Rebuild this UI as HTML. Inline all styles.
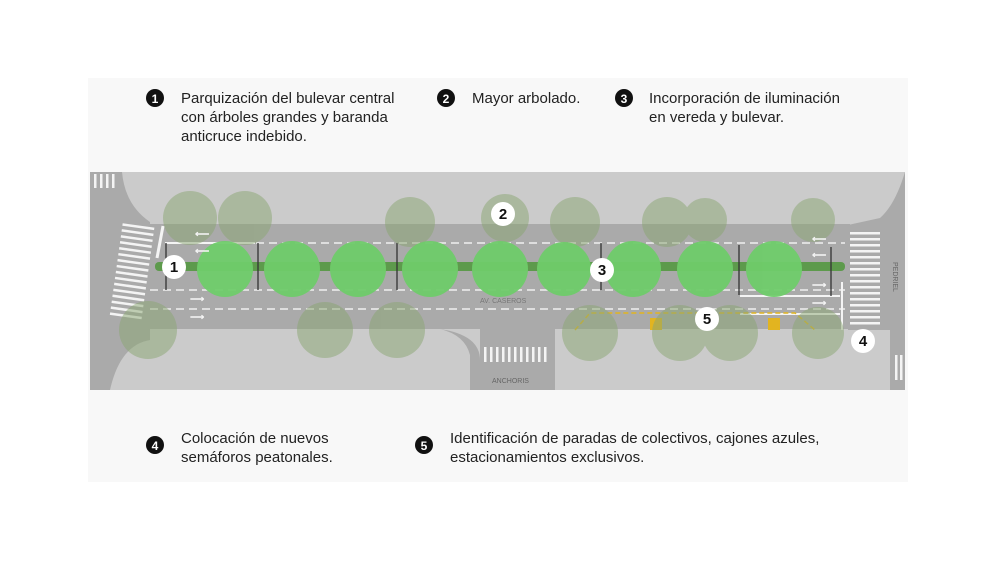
<!DOCTYPE html>
<html><head><meta charset="utf-8"><style>
body{margin:0;width:992px;height:558px;background:#fff;overflow:hidden;font-family:"Liberation Sans",sans-serif;}
</style></head><body>
<svg width="992" height="558" viewBox="0 0 992 558" xmlns="http://www.w3.org/2000/svg" font-family="Liberation Sans, sans-serif">
<rect x="88" y="78" width="820" height="404" fill="#f8f8f8"/>
<!-- legend -->
<g font-size="15" fill="#222">
<circle cx="155" cy="98" r="9" fill="#111"/><text x="155" y="103" font-size="12" font-weight="bold" fill="#fff" text-anchor="middle">1</text>
<text x="181" y="103">Parquización del bulevar central</text>
<text x="181" y="122">con árboles grandes y baranda</text>
<text x="181" y="141">anticruce indebido.</text>
<circle cx="446" cy="98" r="9" fill="#111"/><text x="446" y="103" font-size="12" font-weight="bold" fill="#fff" text-anchor="middle">2</text>
<text x="472" y="103">Mayor arbolado.</text>
<circle cx="624" cy="98" r="9" fill="#111"/><text x="624" y="103" font-size="12" font-weight="bold" fill="#fff" text-anchor="middle">3</text>
<text x="649" y="103">Incorporación de iluminación</text>
<text x="649" y="122">en vereda y bulevar.</text>
<circle cx="155" cy="445" r="9" fill="#111"/><text x="155" y="450" font-size="12" font-weight="bold" fill="#fff" text-anchor="middle">4</text>
<text x="181" y="443">Colocación de nuevos</text>
<text x="181" y="462">semáforos peatonales.</text>
<circle cx="424" cy="445" r="9" fill="#111"/><text x="424" y="450" font-size="12" font-weight="bold" fill="#fff" text-anchor="middle">5</text>
<text x="450" y="443">Identificación de paradas de colectivos, cajones azules,</text>
<text x="450" y="462">estacionamientos exclusivos.</text>
</g>
<!-- map -->
<rect x="90" y="172" width="815" height="218" fill="#cbcbcb"/>
<path d="M90 172 H122 Q125 205 150 222 L150 340 Q120 345 110 390 H90 Z" fill="#aaaaaa"/>
<path d="M848 225 L880 218 Q895 205 905 172 V390 H890 V330 H848 Z" fill="#aaaaaa"/>
<rect x="150" y="224" width="700" height="105" fill="#aaaaaa"/>
<path d="M480 329 H555 V390 H480 Z" fill="#aaaaaa"/>
<path d="M440 329 Q480 335 480 360 V390 H470 V355 Q465 335 440 329Z" fill="#aaaaaa"/>
<!-- lane lines -->
<g stroke="#f0f0f0" stroke-width="1.5" stroke-dasharray="8,5" fill="none">
<line x1="165" y1="243" x2="845" y2="243"/>
<line x1="150" y1="290" x2="845" y2="290"/>
<line x1="150" y1="309" x2="845" y2="309"/>
</g>
<line x1="165" y1="243" x2="255" y2="243" stroke="#f4f4f4" stroke-width="2"/>
<line x1="740" y1="296" x2="840" y2="296" stroke="#f4f4f4" stroke-width="2"/>
<line x1="740" y1="314" x2="840" y2="314" stroke="#f4f4f4" stroke-width="2"/>
<line x1="842" y1="282" x2="842" y2="330" stroke="#f4f4f4" stroke-width="2"/>
<line x1="163" y1="226" x2="157" y2="258" stroke="#f4f4f4" stroke-width="3"/>
<!-- median -->
<rect x="155" y="262" width="690" height="9" rx="4" fill="#5d9a4c"/>
<!-- barriers -->
<g stroke="#333" stroke-width="1.3">
<line x1="166" y1="243" x2="166" y2="290"/><line x1="258" y1="243" x2="258" y2="290"/>
<line x1="397" y1="243" x2="397" y2="290"/><line x1="601" y1="243" x2="601" y2="290"/>
<line x1="739" y1="245" x2="739" y2="295"/><line x1="831" y1="247" x2="831" y2="296"/>
</g>
<!-- crosswalks -->
<g fill="#f4f4f4">
<g transform="translate(132,272) rotate(8)">
<rect x="-17" y="-48" width="34" height="96" fill="#aaa"/>
</g>
<g transform="translate(132,272) rotate(8)">
<rect x="-16" y="-47" width="32" height="2.5"/><rect x="-16" y="-41" width="32" height="2.5"/><rect x="-16" y="-35" width="32" height="2.5"/><rect x="-16" y="-29" width="32" height="2.5"/><rect x="-16" y="-23" width="32" height="2.5"/><rect x="-16" y="-17" width="32" height="2.5"/><rect x="-16" y="-11" width="32" height="2.5"/><rect x="-16" y="-5" width="32" height="2.5"/><rect x="-16" y="1" width="32" height="2.5"/><rect x="-16" y="7" width="32" height="2.5"/><rect x="-16" y="13" width="32" height="2.5"/><rect x="-16" y="19" width="32" height="2.5"/><rect x="-16" y="25" width="32" height="2.5"/><rect x="-16" y="31" width="32" height="2.5"/><rect x="-16" y="37" width="32" height="2.5"/><rect x="-16" y="43" width="32" height="2.5"/>
</g>
<g>
<rect x="850" y="232" width="30" height="2.5"/><rect x="850" y="238" width="30" height="2.5"/><rect x="850" y="244" width="30" height="2.5"/><rect x="850" y="250" width="30" height="2.5"/><rect x="850" y="256" width="30" height="2.5"/><rect x="850" y="262" width="30" height="2.5"/><rect x="850" y="268" width="30" height="2.5"/><rect x="850" y="274" width="30" height="2.5"/><rect x="850" y="280" width="30" height="2.5"/><rect x="850" y="286" width="30" height="2.5"/><rect x="850" y="292" width="30" height="2.5"/><rect x="850" y="298" width="30" height="2.5"/><rect x="850" y="304" width="30" height="2.5"/><rect x="850" y="310" width="30" height="2.5"/><rect x="850" y="316" width="30" height="2.5"/><rect x="850" y="322" width="30" height="2.5"/>
</g>
<g>
<rect x="484" y="347" width="2.5" height="15"/><rect x="490" y="347" width="2.5" height="15"/><rect x="496" y="347" width="2.5" height="15"/><rect x="502" y="347" width="2.5" height="15"/><rect x="508" y="347" width="2.5" height="15"/><rect x="514" y="347" width="2.5" height="15"/><rect x="520" y="347" width="2.5" height="15"/><rect x="526" y="347" width="2.5" height="15"/><rect x="532" y="347" width="2.5" height="15"/><rect x="538" y="347" width="2.5" height="15"/><rect x="544" y="347" width="2.5" height="15"/>
<rect x="94" y="174" width="2.5" height="14"/><rect x="100" y="174" width="2.5" height="14"/><rect x="106" y="174" width="2.5" height="14"/><rect x="112" y="174" width="2.5" height="14"/>
<rect x="895" y="355" width="2.5" height="25"/><rect x="900" y="355" width="2.5" height="25"/>
</g>
</g>
<!-- yellow bus stop -->
<g stroke="#e2b420" stroke-width="1.5" fill="none" stroke-dasharray="5,3">
<path d="M575 330 L590 313 H795 L815 330"/>
</g>
<rect x="650" y="318" width="12" height="12" fill="#e2b420"/><rect x="768" y="318" width="12" height="12" fill="#e2b420"/>
<!-- faded trees -->
<g fill="#8aa672" opacity="0.5">
<circle cx="190" cy="218" r="27"/><circle cx="245" cy="218" r="27"/><circle cx="410" cy="222" r="25"/><circle cx="505" cy="218" r="24"/><circle cx="575" cy="222" r="25"/><circle cx="667" cy="222" r="25"/><circle cx="705" cy="220" r="22"/><circle cx="813" cy="220" r="22"/>
<circle cx="148" cy="330" r="29"/><circle cx="325" cy="330" r="28"/><circle cx="397" cy="330" r="28"/><circle cx="590" cy="333" r="28"/><circle cx="680" cy="333" r="28"/><circle cx="730" cy="333" r="28"/><circle cx="818" cy="333" r="26"/>
</g>
<!-- big trees -->
<g fill="#6fcc6a" opacity="0.95">
<circle cx="225" cy="269" r="28"/><circle cx="292" cy="269" r="28"/><circle cx="358" cy="269" r="28"/><circle cx="430" cy="269" r="28"/><circle cx="500" cy="269" r="28"/><circle cx="564" cy="269" r="27"/><circle cx="633" cy="269" r="28"/><circle cx="705" cy="269" r="28"/><circle cx="774" cy="269" r="28"/>
</g>
<!-- arrows -->
<g fill="#f4f4f4" font-size="10" font-weight="bold">
<text x="195" y="237">⟵</text><text x="195" y="254">⟵</text><text x="190" y="302">⟶</text><text x="190" y="320">⟶</text>
<text x="812" y="242">⟵</text><text x="812" y="258">⟵</text><text x="812" y="288">⟶</text><text x="812" y="306">⟶</text>
</g>
<text x="480" y="303" font-size="7" fill="#777">AV. CASEROS</text>
<text x="492" y="383" font-size="7" fill="#666">ANCHORIS</text>
<text x="893" y="262" font-size="7" fill="#666" transform="rotate(90 893 262)">PEDRIEL</text>
<!-- markers -->
<g font-size="15" font-weight="bold" text-anchor="middle" fill="#111">
<circle cx="174" cy="267" r="12" fill="#fff"/><text x="174" y="272">1</text>
<circle cx="503" cy="214" r="12" fill="#fff"/><text x="503" y="219">2</text>
<circle cx="602" cy="270" r="12" fill="#fff"/><text x="602" y="275">3</text>
<circle cx="863" cy="341" r="12" fill="#fff"/><text x="863" y="346">4</text>
<circle cx="707" cy="319" r="12" fill="#fff"/><text x="707" y="324">5</text>
</g>
</svg>
</body></html>
